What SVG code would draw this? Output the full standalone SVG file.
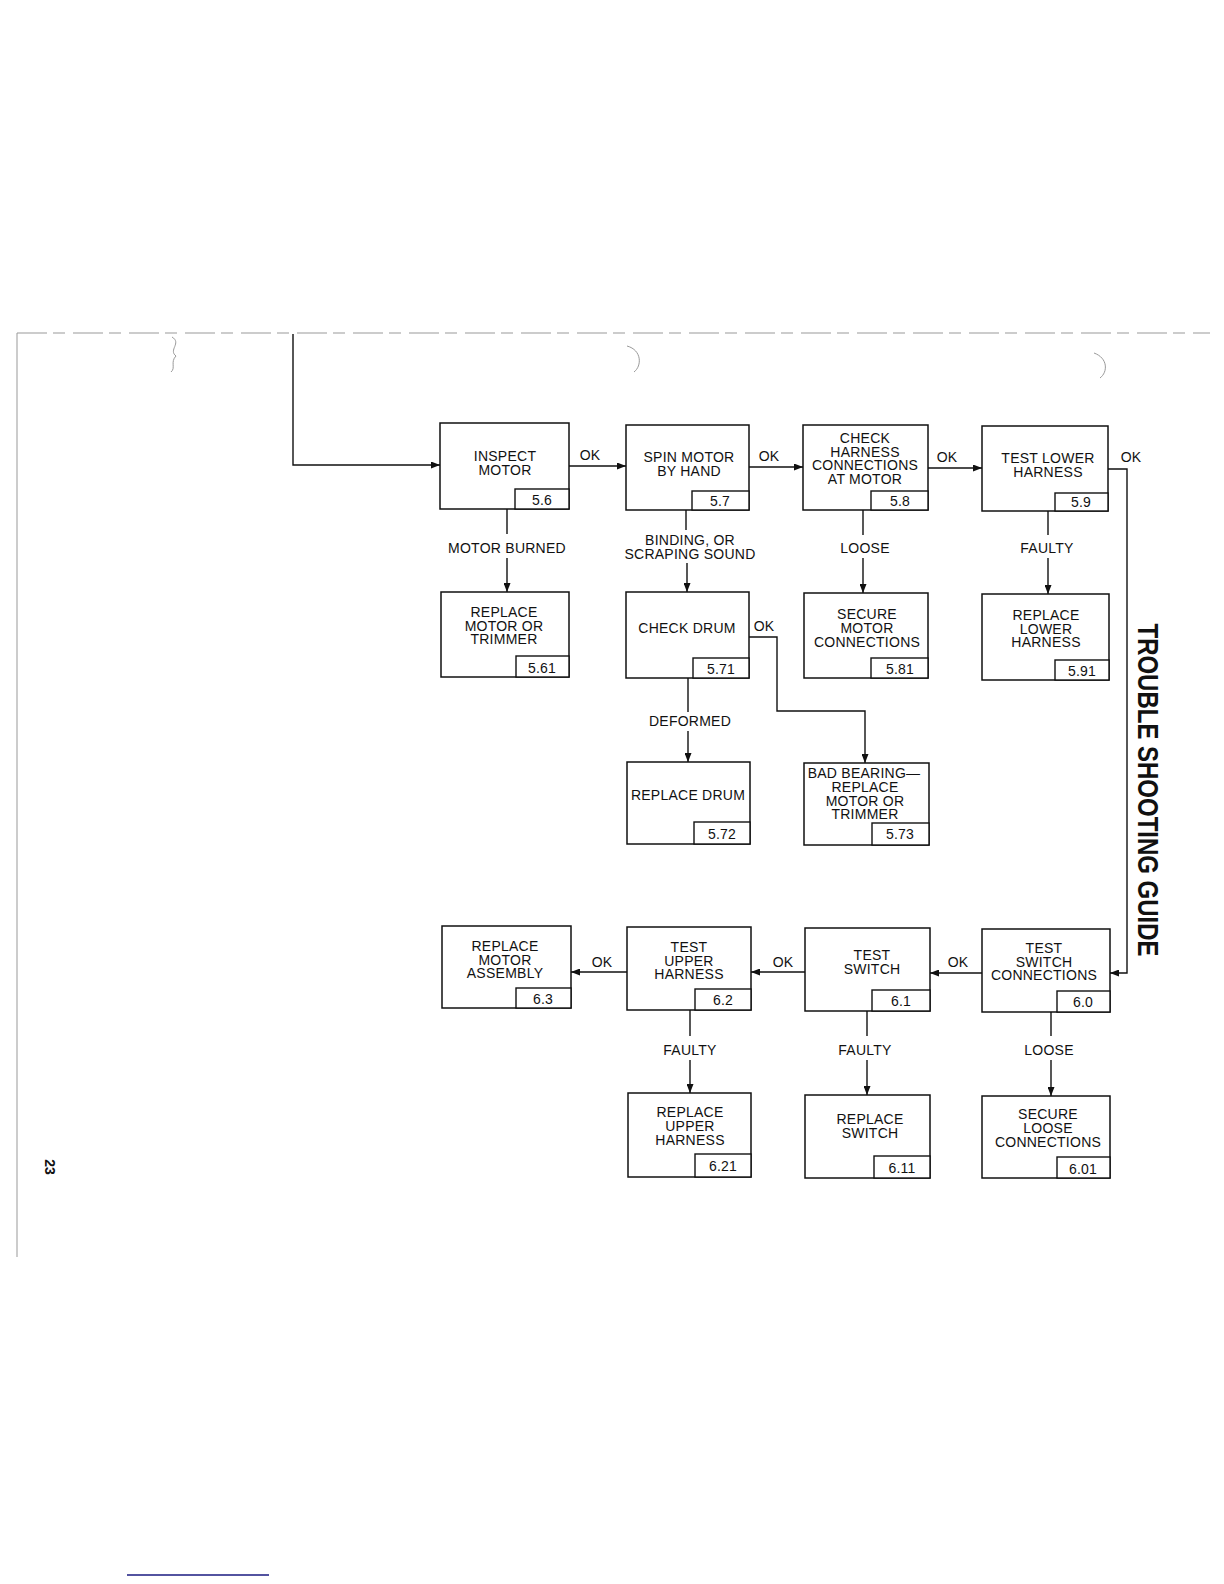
<svg xmlns="http://www.w3.org/2000/svg" width="1224" height="1584" viewBox="0 0 1224 1584">
<style>
.box{fill:#fff;stroke:#111;stroke-width:1.5}
.num{fill:#fff;stroke:#111;stroke-width:1.4}
.t{font-family:"Liberation Sans",Arial,sans-serif;font-size:14px;letter-spacing:0.25px;fill:#111;text-anchor:middle}
.c{fill:none;stroke:#111;stroke-width:1.4}
.lbl{font-family:"Liberation Sans",Arial,sans-serif;font-size:14px;letter-spacing:0.25px;fill:#111;text-anchor:middle}
.faint{fill:none;stroke:#999;stroke-width:1}
</style>
<defs>
<marker id="ah" markerWidth="9" markerHeight="7" refX="9" refY="3.5" orient="auto" markerUnits="userSpaceOnUse">
<path d="M0,0 L9,3.5 L0,7 z" fill="#111"/>
</marker>
</defs>
<rect width="1224" height="1584" fill="#fff"/>
<g id="page">
<line class="faint" x1="17" y1="333" x2="17" y2="1257" stroke="#888"/>
<line class="faint" x1="17" y1="333" x2="1210" y2="333" stroke="#d4d4d4" stroke-dasharray="30 6 12 8"/>
<path class="faint" d="M172,337 C182,343 168,350 176,356 C170,362 176,368 171,372" stroke="#555"/>
<path class="faint" d="M627,346 C642,350 642,366 634,372" stroke="#666"/>
<path class="faint" d="M1094,353 C1108,358 1108,372 1100,378" stroke="#666"/>
<line x1="127" y1="1575" x2="269" y2="1575" stroke="#1a1a80" stroke-width="1.5"/>
<text transform="translate(1138,790) rotate(90)" text-anchor="middle" font-family="'Liberation Sans',Arial,sans-serif" font-weight="bold" font-size="30" textLength="333" lengthAdjust="spacingAndGlyphs" fill="#111">TROUBLE SHOOTING GUIDE</text>
<text transform="translate(45,1167) rotate(90)" text-anchor="middle" font-family="'Liberation Sans',Arial,sans-serif" font-weight="bold" font-size="14" fill="#111">23</text>
</g>
<g id="connectors">
<path class="c" d="M293,334 V465 H440" marker-end="url(#ah)"/>
<path class="c" d="M569,466 H626" marker-end="url(#ah)"/>
<text class="lbl" x="590" y="460">OK</text>
<path class="c" d="M749,467 H803" marker-end="url(#ah)"/>
<text class="lbl" x="769" y="461">OK</text>
<path class="c" d="M928,468 H982" marker-end="url(#ah)"/>
<text class="lbl" x="947" y="462">OK</text>
<path class="c" d="M1108,469 H1127 V973 H1110" marker-end="url(#ah)"/>
<text class="lbl" x="1131" y="462">OK</text>
<path class="c" d="M507,509 V534"/>
<text class="lbl" x="507" y="553">MOTOR BURNED</text>
<path class="c" d="M507,558 V592" marker-end="url(#ah)"/>
<path class="c" d="M686,510 V530"/>
<text class="lbl" x="690" y="545">BINDING, OR</text>
<text class="lbl" x="690" y="559">SCRAPING SOUND</text>
<path class="c" d="M687,563 V592" marker-end="url(#ah)"/>
<path class="c" d="M863,510 V535"/>
<text class="lbl" x="865" y="553">LOOSE</text>
<path class="c" d="M863,558 V593" marker-end="url(#ah)"/>
<path class="c" d="M1048,511 V535"/>
<text class="lbl" x="1047" y="553">FAULTY</text>
<path class="c" d="M1048,558 V594" marker-end="url(#ah)"/>
<path class="c" d="M688,678 V712"/>
<text class="lbl" x="690" y="726">DEFORMED</text>
<path class="c" d="M688,731 V762" marker-end="url(#ah)"/>
<path class="c" d="M749,637 H777 V711 H865 V763" marker-end="url(#ah)"/>
<text class="lbl" x="764" y="631">OK</text>
<path class="c" d="M982,973 H930" marker-end="url(#ah)"/>
<text class="lbl" x="958" y="967">OK</text>
<path class="c" d="M805,972 H751" marker-end="url(#ah)"/>
<text class="lbl" x="783" y="967">OK</text>
<path class="c" d="M627,972 H571" marker-end="url(#ah)"/>
<text class="lbl" x="602" y="967">OK</text>
<path class="c" d="M690,1010 V1036"/>
<text class="lbl" x="690" y="1055">FAULTY</text>
<path class="c" d="M690,1060 V1093" marker-end="url(#ah)"/>
<path class="c" d="M867,1011 V1036"/>
<text class="lbl" x="865" y="1055">FAULTY</text>
<path class="c" d="M867,1060 V1095" marker-end="url(#ah)"/>
<path class="c" d="M1051,1012 V1036"/>
<text class="lbl" x="1049" y="1055">LOOSE</text>
<path class="c" d="M1051,1060 V1096" marker-end="url(#ah)"/>
</g>
<g id="n5_6">
<rect class="box" x="440" y="423" width="129" height="86"/>
<text class="t" x="505" y="461">INSPECT</text><text class="t" x="505" y="474.5">MOTOR</text>
<rect class="num" x="515" y="489" width="54" height="20"/><text class="t" x="542" y="505">5.6</text>
</g>
<g id="n5_7">
<rect class="box" x="626" y="425" width="123" height="85"/>
<text class="t" x="689" y="462">SPIN MOTOR</text><text class="t" x="689" y="475.5">BY HAND</text>
<rect class="num" x="692" y="491" width="57" height="19"/><text class="t" x="720" y="506">5.7</text>
</g>
<g id="n5_8">
<rect class="box" x="803" y="425" width="125" height="85"/>
<text class="t" x="865" y="443">CHECK</text><text class="t" x="865" y="456.5">HARNESS</text><text class="t" x="865" y="470">CONNECTIONS</text><text class="t" x="865" y="483.5">AT MOTOR</text>
<rect class="num" x="871" y="491" width="57" height="19"/><text class="t" x="900" y="506">5.8</text>
</g>
<g id="n5_9">
<rect class="box" x="982" y="426" width="126" height="85"/>
<text class="t" x="1048" y="463">TEST LOWER</text><text class="t" x="1048" y="476.5">HARNESS</text>
<rect class="num" x="1055" y="493" width="53" height="18"/><text class="t" x="1081" y="507">5.9</text>
</g>
<g id="n5_61">
<rect class="box" x="441" y="592" width="128" height="85"/>
<text class="t" x="504" y="617">REPLACE</text><text class="t" x="504" y="630.5">MOTOR OR</text><text class="t" x="504" y="644">TRIMMER</text>
<rect class="num" x="516" y="656" width="53" height="21"/><text class="t" x="542" y="673">5.61</text>
</g>
<g id="n5_71">
<rect class="box" x="626" y="592" width="123" height="86"/>
<text class="t" x="687" y="633">CHECK DRUM</text>
<rect class="num" x="693" y="658" width="56" height="20"/><text class="t" x="721" y="674">5.71</text>
</g>
<g id="n5_81">
<rect class="box" x="804" y="593" width="124" height="85"/>
<text class="t" x="867" y="619">SECURE</text><text class="t" x="867" y="633">MOTOR</text><text class="t" x="867" y="647">CONNECTIONS</text>
<rect class="num" x="871" y="658" width="57" height="20"/><text class="t" x="900" y="674">5.81</text>
</g>
<g id="n5_91">
<rect class="box" x="982" y="594" width="127" height="86"/>
<text class="t" x="1046" y="620">REPLACE</text><text class="t" x="1046" y="633.5">LOWER</text><text class="t" x="1046" y="647">HARNESS</text>
<rect class="num" x="1055" y="660" width="54" height="20"/><text class="t" x="1082" y="676">5.91</text>
</g>
<g id="n5_72">
<rect class="box" x="627" y="762" width="123" height="82"/>
<text class="t" x="688" y="800">REPLACE DRUM</text>
<rect class="num" x="694" y="822" width="56" height="22"/><text class="t" x="722" y="839">5.72</text>
</g>
<g id="n5_73">
<rect class="box" x="804" y="763" width="125" height="82"/>
<text class="t" x="864" y="778">BAD BEARING—</text><text class="t" x="865" y="792">REPLACE</text><text class="t" x="865" y="806">MOTOR OR</text><text class="t" x="865" y="819">TRIMMER</text>
<rect class="num" x="872" y="823" width="57" height="22"/><text class="t" x="900" y="839">5.73</text>
</g>
<g id="n6_3">
<rect class="box" x="442" y="926" width="129" height="82"/>
<text class="t" x="505" y="951">REPLACE</text><text class="t" x="505" y="964.5">MOTOR</text><text class="t" x="505" y="978">ASSEMBLY</text>
<rect class="num" x="516" y="988" width="55" height="20"/><text class="t" x="543" y="1004">6.3</text>
</g>
<g id="n6_2">
<rect class="box" x="627" y="927" width="124" height="83"/>
<text class="t" x="689" y="952">TEST</text><text class="t" x="689" y="965.5">UPPER</text><text class="t" x="689" y="979">HARNESS</text>
<rect class="num" x="695" y="989" width="56" height="21"/><text class="t" x="723" y="1005">6.2</text>
</g>
<g id="n6_1">
<rect class="box" x="805" y="928" width="125" height="83"/>
<text class="t" x="872" y="960">TEST</text><text class="t" x="872" y="974">SWITCH</text>
<rect class="num" x="872" y="990" width="58" height="21"/><text class="t" x="901" y="1006">6.1</text>
</g>
<g id="n6_0">
<rect class="box" x="982" y="929" width="128" height="83"/>
<text class="t" x="1044" y="953">TEST</text><text class="t" x="1044" y="966.5">SWITCH</text><text class="t" x="1044" y="980">CONNECTIONS</text>
<rect class="num" x="1057" y="991" width="53" height="21"/><text class="t" x="1083" y="1007">6.0</text>
</g>
<g id="n6_21">
<rect class="box" x="628" y="1093" width="123" height="84"/>
<text class="t" x="690" y="1117">REPLACE</text><text class="t" x="690" y="1131">UPPER</text><text class="t" x="690" y="1145">HARNESS</text>
<rect class="num" x="695" y="1154" width="56" height="23"/><text class="t" x="723" y="1171">6.21</text>
</g>
<g id="n6_11">
<rect class="box" x="805" y="1095" width="125" height="83"/>
<text class="t" x="870" y="1124">REPLACE</text><text class="t" x="870" y="1138">SWITCH</text>
<rect class="num" x="874" y="1156" width="56" height="22"/><text class="t" x="902" y="1173">6.11</text>
</g>
<g id="n6_01">
<rect class="box" x="982" y="1096" width="128" height="82"/>
<text class="t" x="1048" y="1119">SECURE</text><text class="t" x="1048" y="1133">LOOSE</text><text class="t" x="1048" y="1147">CONNECTIONS</text>
<rect class="num" x="1057" y="1157" width="53" height="21"/><text class="t" x="1083" y="1174">6.01</text>
</g>
</svg>
